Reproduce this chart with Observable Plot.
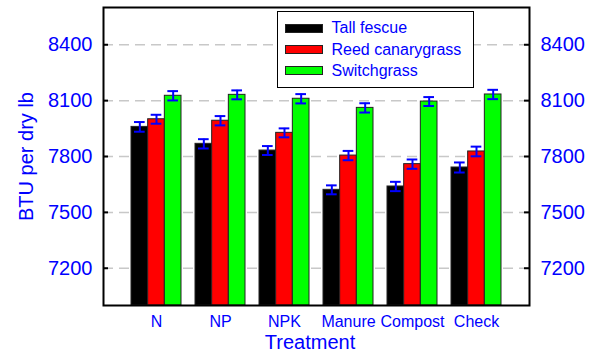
<!DOCTYPE html>
<html>
<head>
<meta charset="utf-8">
<script src="https://cdn.jsdelivr.net/npm/d3@7"></script>
<script src="https://cdn.jsdelivr.net/npm/@observablehq/plot@0.6"></script>
<style>
  body { margin: 0; background: #fff; }
  #chart { position: relative; width: 597px; height: 354px; font-family: "Liberation Sans", Arial, sans-serif; }
  .legend { position: absolute; box-sizing: border-box; background: #fff; border: 1.5px solid #000; }
  .legend .sw { position: absolute; box-sizing: border-box; border: 1px solid #222; }
  .legend .lb { position: absolute; font-size: 16px; line-height: 16px; color: #0000ff; white-space: nowrap; }
</style>
</head>
<body>
<div id="chart"></div>
<script>
// ---- data ----
const treatments = ["N", "NP", "NPK", "Manure", "Compost", "Check"];
const species = ["Tall fescue", "Reed canarygrass", "Switchgrass"];
const tallFescue      = [7959, 7868, 7832, 7621, 7639, 7741];
const reedCanarygrass = [8000, 7992, 7927, 7805, 7759, 7827];
const switchgrass     = [8126, 8131, 8110, 8061, 8095, 8133];
const tallFescueErr      = [26, 25, 24, 24, 25, 27];
const reedCanarygrassErr = [24, 25, 24, 25, 25, 26];
const switchgrassErr     = [25, 24, 25, 25, 24, 25];
const yTicks = [7200, 7500, 7800, 8100, 8400];
const yDomain = [7000, 8600];
const colors = ["#000000", "#ff0000", "#00ff00"];
const xTitle = "Treatment";
const yTitle = "BTU per dry lb";

// ---- table ----
const seriesValues = [tallFescue, reedCanarygrass, switchgrass];
const seriesErrors = [tallFescueErr, reedCanarygrassErr, switchgrassErr];
const table = treatments.flatMap((t, i) =>
  species.map((s, j) => ({ treatment: t, species: s, value: seriesValues[j][i], err: seriesErrors[j][i] }))
);

const W = 597, H = 354, mL = 103, mR = 68, mT = 7, mB = 49;
const innerW = W - mL - mR;
const padIn = 0.224, padOut = 0.4175;
const step = innerW / (treatments.length - padIn + 2 * padOut);
const groupW = step * (1 - padIn);
const barW = groupW / species.length;
const blue = "#0000ff";
const font = "'Liberation Sans', Arial, sans-serif";
const capInset = 3;

const seriesMarks = species.flatMap((s, j) => {
  const rows = table.filter(d => d.species === s);
  const iL = j * barW, iR = (species.length - 1 - j) * barW;
  const off = (j - (species.length - 1) / 2) * barW;
  return [
    Plot.barY(rows, { x: "treatment", y1: yDomain[0], y2: "value", fill: "species", stroke: "#222", strokeWidth: 1, insetLeft: iL, insetRight: iR }),
    Plot.ruleX(rows, { x: "treatment", y1: d => d.value - d.err, y2: d => d.value + d.err, stroke: blue, strokeWidth: 2, dx: off }),
    Plot.tickY(rows, { x: "treatment", y: d => d.value - d.err, stroke: blue, strokeWidth: 2, insetLeft: iL + capInset, insetRight: iR + capInset }),
    Plot.tickY(rows, { x: "treatment", y: d => d.value + d.err, stroke: blue, strokeWidth: 2, insetLeft: iL + capInset, insetRight: iR + capInset })
  ];
});

const svg = Plot.plot({
  width: W, height: H,
  marginLeft: mL, marginRight: mR, marginTop: mT, marginBottom: mB,
  style: { fontFamily: font, background: "white", overflow: "visible" },
  x: { domain: treatments, paddingInner: padIn, paddingOuter: padOut },
  y: { domain: yDomain },
  color: { domain: species, range: colors },
  marks: [
    Plot.gridY(yTicks, { stroke: "#c8c8c8", strokeOpacity: 1, strokeWidth: 1.5, strokeDasharray: "10,6" }),
    ...seriesMarks,
    Plot.axisX({ anchor: "bottom", tickSize: 0, tickPadding: 10, fontSize: 16, color: blue, label: null }),
    Plot.axisY(yTicks, { anchor: "left", tickSize: 0, tickPadding: 11, fontSize: 20, color: blue, label: null, tickFormat: d => String(d) }),
    Plot.axisY(yTicks, { anchor: "right", tickSize: 0, tickPadding: 11, fontSize: 20, color: blue, label: null, tickFormat: d => String(d) }),
    // inward ticks on both sides
    Plot.ruleY(yTicks, { stroke: "black", strokeWidth: 2, insetRight: innerW - 5 }),
    Plot.ruleY(yTicks, { stroke: "black", strokeWidth: 2, insetLeft: innerW - 5 }),
    // titles
    Plot.text([xTitle], { text: d => d, frameAnchor: "bottom", lineAnchor: "middle", textAnchor: "middle", dy: 37.5, dx: -6.5, fontSize: 20, fill: blue }),
    Plot.text([yTitle], { text: d => d, frameAnchor: "left", lineAnchor: "middle", textAnchor: "middle", rotate: -90, dx: -77, fontSize: 20, fill: blue }),
    Plot.frame({ stroke: "black", strokeWidth: 2 })
  ]
});

const chart = document.getElementById("chart");
chart.appendChild(svg);

// ---- legend (inside plot, top) ----
const legend = d3.select(chart).append("div").attr("class", "legend")
  .style("left", "277px").style("top", "11px").style("width", "197px").style("height", "77px");
species.forEach((s, i) => {
  const cy = 16.3 + i * 21.3;
  legend.append("div").attr("class", "sw")
    .style("left", "6.5px").style("top", (cy - 4.5) + "px")
    .style("width", "38px").style("height", "9px")
    .style("background", colors[i]);
  legend.append("div").attr("class", "lb")
    .style("left", "53.5px").style("top", (cy - 8) + "px")
    .text(s);
});
</script>
</body>
</html>
